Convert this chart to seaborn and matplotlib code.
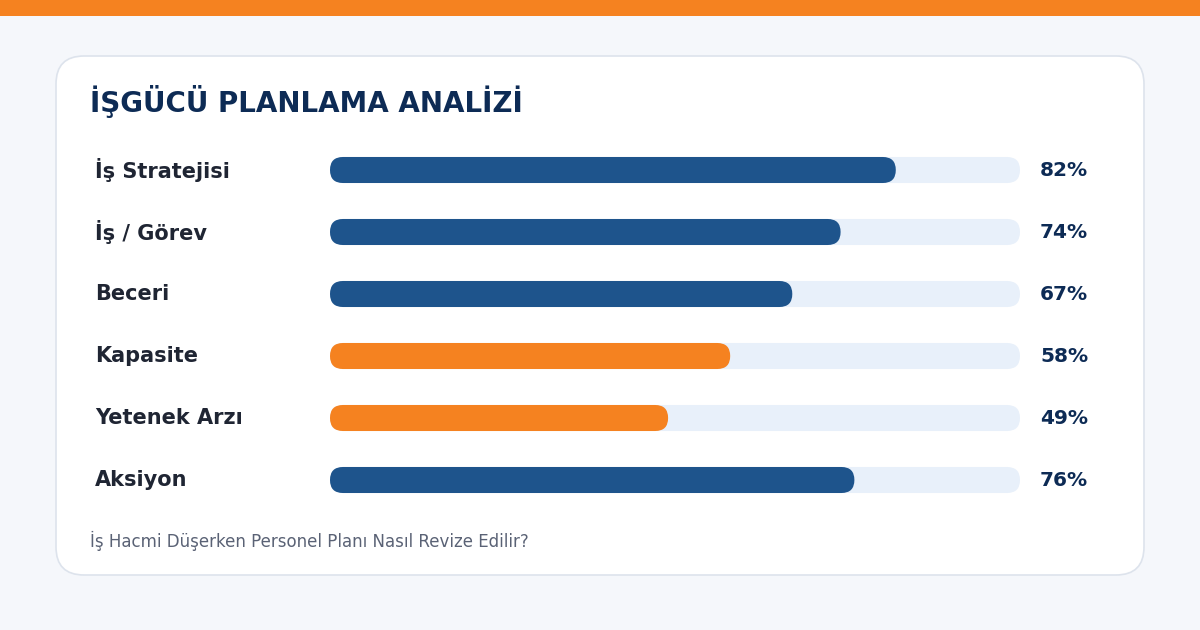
import matplotlib
matplotlib.use("Agg")
import matplotlib.pyplot as plt
import seaborn as sns
import pandas as pd
from matplotlib.patches import FancyBboxPatch, Rectangle

categories = ["İş Stratejisi", "İş / Görev", "Beceri", "Kapasite", "Yetenek Arzı", "Aksiyon"]
values = [82, 74, 67, 58, 49, 76]
bar_colors = ["#1e548c", "#1e548c", "#1e548c", "#f58220", "#f58220", "#1e548c"]
title = "İŞGÜCÜ PLANLAMA ANALİZİ"
footnote = "İş Hacmi Düşerken Personel Planı Nasıl Revize Edilir?"

sns.set_theme(style="white")
plt.rcParams['font.family'] = ['DejaVu Sans']

fig = plt.figure(figsize=(12, 6.3), dpi=100)
fig.patch.set_facecolor("#f5f7fb")

bg = fig.add_axes([0, 0, 1, 1])
bg.set_xlim(0, 1200); bg.set_ylim(630, 0); bg.axis("off")
bg.add_patch(Rectangle((0, 0), 1200, 16, color="#f58220", lw=0))
bg.add_patch(FancyBboxPatch((56, 56), 1088, 519, boxstyle="round,pad=0,rounding_size=28",
                            facecolor="white", edgecolor="#dde3ec", lw=1.2))
bg.text(90, 102, title, fontsize=20, fontweight="bold", color="#0d2b55", va="center", ha="left")
bg.text(90, 541, footnote, fontsize=12, color="#5a6275", va="center", ha="left")
for i, (c, v) in enumerate(zip(categories, values)):
    y = 170 + 62 * i
    bg.text(95, y, c, fontsize=15, fontweight="bold", color="#1f2533", va="center", ha="left")
    bg.text(1040, y, f"{v}%", fontsize=14.5, fontweight="bold", color="#0d2b55", va="center", ha="left")

ax = fig.add_axes([330 / 1200, (630 - 511) / 630, 690 / 1200, 372 / 630])
ax.patch.set_alpha(0)
df = pd.DataFrame({"cat": categories, "val": values, "full": [100] * len(values)})
sns.barplot(data=df, x="full", y="cat", color="#e8f0fa", width=0.42, ax=ax, saturation=1)
sns.barplot(data=df, x="val", y="cat", hue="cat", palette=bar_colors, width=0.42, ax=ax,
            legend=False, saturation=1)
ax.set_xlim(0, 100); ax.set_ylim(5.5, -0.5)
ax.axis("off")

rx = 13 / 6.9
ry = 13 / 62
patches = list(ax.patches)
for p in patches:
    x, y, w, h = p.get_x(), p.get_y(), p.get_width(), p.get_height()
    fc = p.get_facecolor()
    p.remove()
    ax.add_patch(FancyBboxPatch((x, y), w, h, boxstyle=f"round,pad=0,rounding_size={rx}",
                                mutation_aspect=ry / rx, facecolor=fc, edgecolor="none"))

fig.savefig("out.png", dpi=100, facecolor=fig.get_facecolor())
